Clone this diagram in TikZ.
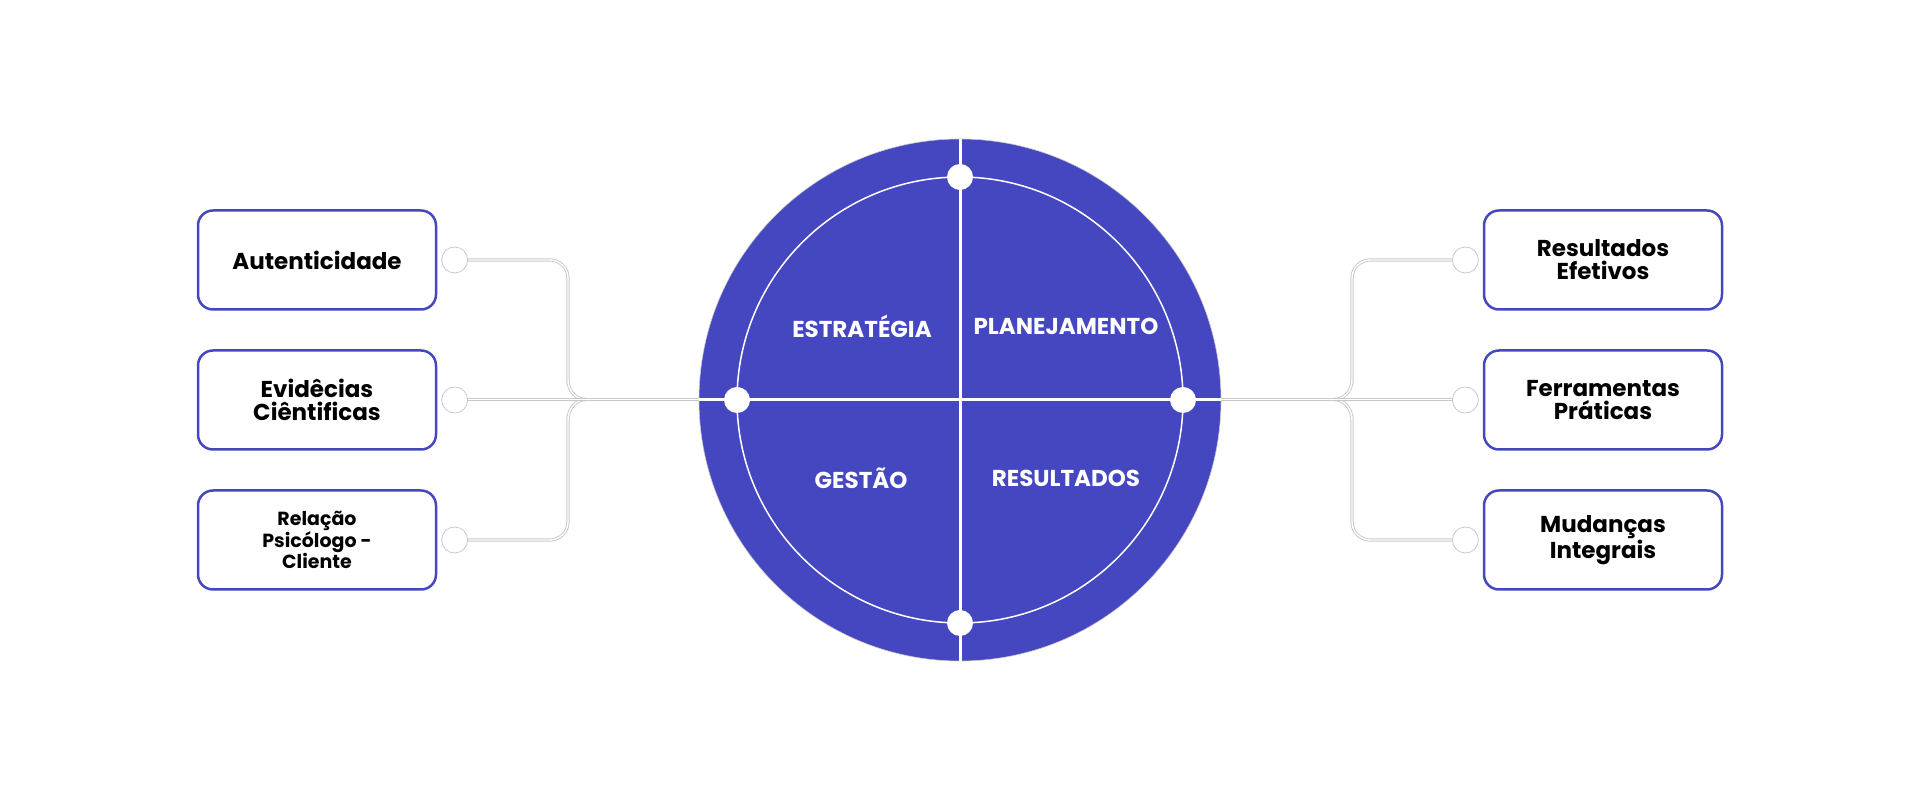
\documentclass[tikz,border=0pt]{standalone}
\usepackage{fontspec}
\setmainfont{Poppins}
\usetikzlibrary{positioning}

\definecolor{lila}{RGB}{68,71,192}
\definecolor{grau}{RGB}{200,200,200}

\tikzset{
  kasten/.style={draw=lila, line width=2.5pt, rounded corners=15pt, fill=white,
    minimum width=238pt, minimum height=99pt, align=center, inner sep=0pt,
    font=\fontsize{23}{23}\selectfont\bfseries},
  ring/.style={circle, draw=grau, line width=0.8pt, minimum size=26pt, inner sep=0pt},
  leitung/.style={draw=grau, double=white, line width=0.9pt, double distance=1.4pt},
  punkt/.style={circle, fill=white, minimum size=26pt, inner sep=0pt},
  feld/.style={text=white, font=\fontsize{23}{24}\selectfont\bfseries}
}

\begin{document}
\begin{tikzpicture}[x=1pt,y=1pt]
  \useasboundingbox (0,0) rectangle (1920,800);

  % Kreis
  \node[circle, fill=lila, draw=grau, line width=0.6pt, minimum size=522pt, inner sep=0pt] (kreis) at (960,400) {};
  \draw[white, line width=1.5pt] (kreis.center) circle (223pt);
  \draw[white, line width=3pt] (kreis.north) -- (kreis.south);
  \draw[white, line width=3pt] (kreis.west) -- (kreis.east);

  \node[punkt] (oben) at (960,623) {};
  \node[punkt] (unten) at (960,177) {};
  \node[punkt] (west) at (737,400) {};
  \node[punkt] (ost) at (1183,400) {};

  \node[feld] (f1) at (862,474) {ESTRATÉGIA};
  \node[feld] (f2) at (1066,474) {PLANEJAMENTO};
  \node[feld] (f3) at (861,322) {GESTÃO};
  \node[feld] (f4) at (1066,322) {RESULTADOS};

  % links
  \node[kasten] (a1) at (317,540) {Autenticidade};
  \node[kasten] (a2) at (317,400) {Evidêcias\\Ciêntificas};
  \node[kasten, font=\fontsize{19}{20}\selectfont\bfseries] (a3) at (317,260) {Relação\\Psicólogo -\\Cliente};

  \node[ring, right=4pt of a1] (r1) {};
  \node[ring, right=4pt of a2] (r2) {};
  \node[ring, right=4pt of a3] (r3) {};

  \coordinate (links) at (586,400.5);
  \draw[leitung] (r1.east) -- (550,540) arc[start angle=90, end angle=0, radius=18pt]
    -- (568,420) to[out=-90, in=180] (links);
  \draw[leitung] (r3.east) -- (550,260) arc[start angle=-90, end angle=0, radius=18pt]
    -- (568,380) to[out=90, in=180] (links);
  \draw[leitung] (r2.east |- links) -- (links);
  \draw[leitung] (links) -- (kreis.west |- links);

  % rechts
  \node[kasten] (b1) at (1603,540) {Resultados\\Efetivos};
  \node[kasten] (b2) at (1603,400) {Ferramentas\\Práticas};
  \node[kasten] (b3) at (1603,260) {Mudanças\\Integrais};

  \node[ring, left=4pt of b1] (s1) {};
  \node[ring, left=4pt of b2] (s2) {};
  \node[ring, left=4pt of b3] (s3) {};

  \coordinate (rechts) at (1334,400.5);
  \draw[leitung] (s1.west) -- (1370,540) arc[start angle=90, end angle=180, radius=18pt]
    -- (1352,420) to[out=-90, in=0] (rechts);
  \draw[leitung] (s3.west) -- (1370,260) arc[start angle=-90, end angle=-180, radius=18pt]
    -- (1352,380) to[out=90, in=0] (rechts);
  \draw[leitung] (s2.west |- rechts) -- (rechts);
  \draw[leitung] (rechts) -- (kreis.east |- rechts);

\end{tikzpicture}
\end{document}
